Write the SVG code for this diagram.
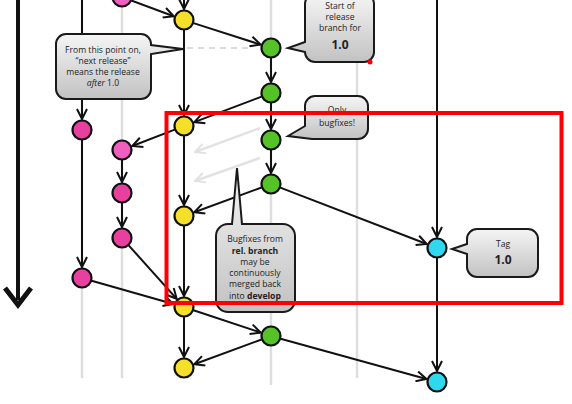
<svg xmlns="http://www.w3.org/2000/svg" width="572" height="404" viewBox="0 0 572 404">
<style>
.lane{stroke:#dedede;stroke-width:2.5;fill:none}
.e{stroke:#111;stroke-width:2;fill:none;marker-end:url(#ah)}
.fade{stroke:#e2e2e2;stroke-width:2.5;fill:none;marker-end:url(#ahf)}
.n{stroke:#111;stroke-width:2.2}
.y{fill:#f6df2b}.g{fill:#55c227}.m{fill:#e8409f}.p{fill:#ee5fc0}.c{fill:#2fd8ef}
.bub{fill:url(#bg);stroke:#1a1a1a;stroke-width:2}
text{font-family:"Open Sans","Noto Sans",sans-serif;fill:#222;text-anchor:middle;font-size:8.6px}
.b{font-weight:bold}
.big{font-weight:bold;font-size:12px}
</style>
<defs>
<linearGradient id="bg" x1="0" y1="0" x2="0" y2="1">
<stop offset="0" stop-color="#f5f5f5"/><stop offset="1" stop-color="#c2c2c2"/>
</linearGradient>
<marker id="ah" viewBox="0 0 12 12" refX="11" refY="6" markerWidth="12" markerHeight="12" markerUnits="userSpaceOnUse" orient="auto"><path d="M1,1 L11,6 L1,11" fill="none" stroke="#111" stroke-width="2"/></marker>
<marker id="ahf" viewBox="0 0 12 12" refX="11" refY="6" markerWidth="12" markerHeight="12" markerUnits="userSpaceOnUse" orient="auto"><path d="M1,1 L11,6 L1,11" fill="none" stroke="#e2e2e2" stroke-width="2"/></marker>
</defs>
<rect width="572" height="404" fill="#fff"/>
<g id="lanes">
<line class="lane" x1="82" y1="0" x2="82" y2="378"/>
<line class="lane" x1="122" y1="0" x2="122" y2="378"/>
<line class="lane" x1="271" y1="0" x2="271" y2="385"/>
<line class="lane" x1="357" y1="0" x2="357" y2="378"/>
</g>
<g id="time-arrow">
<line x1="18" y1="0" x2="18" y2="300" stroke="#111" stroke-width="4"/>
<polyline points="5,288 18,305 31,288" fill="none" stroke="#111" stroke-width="5" stroke-linejoin="miter"/>
</g>
<g id="connectors">
<line class="e" x1="82" y1="-5" x2="82" y2="119"/>
<line class="e" x1="82" y1="140" x2="82" y2="267"/>
<line class="e" x1="131.4" y1="0.5" x2="173.7" y2="16.2"/>
<line class="e" x1="184" y1="-5" x2="184" y2="9"/>
<line class="e" x1="193.5" y1="23.1" x2="260.5" y2="44.6"/>
<line x1="187" y1="48" x2="252" y2="48" stroke="#cfcfcf" stroke-width="1.5" stroke-dasharray="6,5"/>
<line class="e" x1="271" y1="58" x2="271" y2="82"/>
<line class="e" x1="261.6" y1="96.6" x2="194.3" y2="122.1"/>
<line class="e" x1="271" y1="103" x2="271" y2="129"/>
<line class="e" x1="271" y1="150" x2="271" y2="173"/>
<line class="e" x1="261.6" y1="187.5" x2="194.3" y2="212.2"/>
<line class="e" x1="280.3" y1="187.6" x2="426.7" y2="244"/>
<line class="e" x1="184" y1="30" x2="184" y2="115"/>
<line class="e" x1="184" y1="136" x2="184" y2="205"/>
<line class="e" x1="184" y1="226" x2="184" y2="296"/>
<line class="e" x1="184" y1="317" x2="184" y2="357"/>
<line class="e" x1="174.7" y1="129.6" x2="132.3" y2="146"/>
<line class="e" x1="122" y1="160" x2="122" y2="182"/>
<line class="e" x1="122" y1="203" x2="122" y2="227"/>
<line class="e" x1="128.7" y1="245.4" x2="176.7" y2="298.8"/>
<line class="e" x1="91.6" y1="280.7" x2="173.4" y2="304"/>
<line class="e" x1="193.5" y1="310.2" x2="260.6" y2="332.5"/>
<line class="e" x1="261.6" y1="339.5" x2="194.3" y2="364.2"/>
<line class="e" x1="280.6" y1="338.7" x2="426.4" y2="379"/>
<line class="e" x1="437" y1="-5" x2="437" y2="237"/>
<line class="e" x1="437" y1="258" x2="437" y2="371"/>
<line class="fade" x1="260" y1="128" x2="195" y2="152"/>
<line class="fade" x1="260" y1="158" x2="195" y2="181"/>
</g>
<g id="nodes">
<circle id="f0" class="n p" cx="122" cy="-3" r="9.5"/>
<circle id="d1" class="n y" cx="184" cy="20" r="9.5"/>
<circle id="d2" class="n y" cx="184" cy="126" r="9.5"/>
<circle id="d3" class="n y" cx="184" cy="216" r="9.5"/>
<circle id="d4" class="n y" cx="184" cy="307" r="9.5"/>
<circle id="d5" class="n y" cx="184" cy="368" r="9.5"/>
<circle id="r1" class="n g" cx="271" cy="48" r="9.5"/>
<circle id="r2" class="n g" cx="271" cy="93" r="9.5"/>
<circle id="r3" class="n g" cx="271" cy="140" r="9.5"/>
<circle id="r4" class="n g" cx="271" cy="184" r="9.5"/>
<circle id="r5" class="n g" cx="271" cy="336" r="9.5"/>
<circle id="fa1" class="n m" cx="82" cy="130" r="9.5"/>
<circle id="fa2" class="n m" cx="82" cy="278" r="9.5"/>
<circle id="fb1" class="n p" cx="122" cy="150" r="9.5"/>
<circle id="fb2" class="n m" cx="122" cy="193" r="9.5"/>
<circle id="fb3" class="n m" cx="122" cy="238" r="9.5"/>
<circle id="t1" class="n c" cx="437" cy="248" r="9.5"/>
<circle id="t2" class="n c" cx="437" cy="382" r="9.5"/>
</g>
<g id="note-next-release">
<path class="bub" d="M66,34 H141 A10,10 0 0 1 151,44 V45 L183,49 L151,54 V89 A10,10 0 0 1 141,99 H66 A10,10 0 0 1 56,89 V44 A10,10 0 0 1 66,34 Z"/>
<text x="103" y="53">From this point on,</text>
<text x="103" y="64">“next release”</text>
<text x="103" y="75">means the release</text>
<text x="103" y="86"><tspan font-style="italic">after</tspan> 1.0</text>
</g>
<g id="note-start-release">
<path class="bub" d="M315,-6 H364 A10,10 0 0 1 374,4 V52 A10,10 0 0 1 364,62 H315 A10,10 0 0 1 305,52 L288,48 L305,42 V4 A10,10 0 0 1 315,-6 Z"/>
<text x="340" y="9">Start of</text>
<text x="340" y="20">release</text>
<text x="340" y="31">branch for</text>
<text x="340" y="49" class="big">1.0</text>
</g>
<g id="note-bugfixes">
<path class="bub" d="M315,96 H358 A10,10 0 0 1 368,106 V129 A10,10 0 0 1 358,139 H312 L288,136 L305,126 V106 A10,10 0 0 1 315,96 Z"/>
<text x="337" y="113">Only</text>
<text x="337" y="126">bugfixes!</text>
</g>
<g id="note-merge-back">
<path class="bub" d="M228,224 H232 L237,168 L242,224 H283 A12,12 0 0 1 295,236 V300 A12,12 0 0 1 283,312 H228 A12,12 0 0 1 216,300 V236 A12,12 0 0 1 228,224 Z"/>
<text x="255" y="242">Bugfixes from</text>
<text x="255" y="254" class="b">rel. branch</text>
<text x="255" y="265">may be</text>
<text x="255" y="276">continuously</text>
<text x="255" y="287">merged back</text>
<text x="255" y="299">into <tspan class="b">develop</tspan></text>
</g>
<g id="note-tag">
<path class="bub" d="M477,229 H528 A10,10 0 0 1 538,239 V267 A10,10 0 0 1 528,277 H477 A10,10 0 0 1 467,267 V254 L452,249 L467,244 V239 A10,10 0 0 1 477,229 Z"/>
<text x="503" y="247">Tag</text>
<text x="503" y="264" class="big">1.0</text>
</g>
<g id="highlight">
<rect x="166.5" y="113" width="395" height="190" fill="none" stroke="#f00" stroke-width="4"/>
<circle cx="370" cy="62" r="2.5" fill="#f00"/>
</g>
</svg>
